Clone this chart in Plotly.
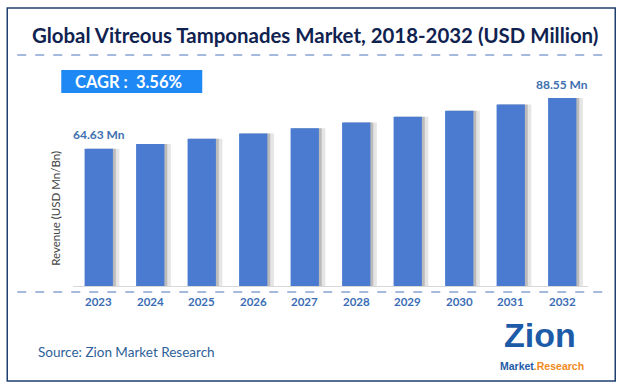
import plotly.graph_objects as go

years = ["2023", "2024", "2025", "2026", "2027", "2028", "2029", "2030", "2031", "2032"]
revenue = [64.63, 66.93, 69.32, 71.79, 74.34, 76.99, 79.73, 82.57, 85.51, 88.55]
first_label = "64.63 Mn"
last_label = "88.55 Mn"
title_text = "Global Vitreous Tamponades Market, 2018-2032 (USD Million)"
cagr_text = "CAGR :  3.56%"
source_text = "Source: Zion Market Research"
ytitle = "Revenue (USD Mn/Bn)"

W, H = 623, 388
L, R, T, B = 72.75, 587.75, 80, 286
ymax = (B - T) / ((B - 98.0) / 88.55)


def px(x):
    return (x - L) / (R - L)


def py(y):
    return (B - y) / (B - T)


fig = go.Figure()
# soft shadow behind bars
fig.add_trace(go.Bar(x=years, y=revenue, width=0.62, offset=-0.22,
                     marker=dict(color="rgba(150,150,150,0.25)", line=dict(width=0)),
                     hoverinfo="skip", showlegend=False))
fig.add_trace(go.Bar(x=years, y=revenue, width=0.58, offset=-0.25,
                     marker=dict(color="rgba(110,110,110,0.35)", line=dict(width=0)),
                     hoverinfo="skip", showlegend=False))
fig.add_trace(go.Bar(x=years, y=revenue, width=0.55, offset=-0.275,
                     marker=dict(color="#4a7bd0", line=dict(width=0)),
                     showlegend=False))

fig.update_layout(
    width=W, height=H,
    margin=dict(l=L, r=W - R, t=T, b=H - B),
    paper_bgcolor="white", plot_bgcolor="white",
    barmode="overlay",
    xaxis=dict(type="category", showgrid=False, showline=True, linecolor="#d8d8d8",
               linewidth=1, ticks="", showticklabels=False, range=[-0.5, 9.5]),
    yaxis=dict(range=[0, ymax], showgrid=False, showticklabels=False, zeroline=False,
               showline=False),
    font=dict(family="Lato, Open Sans, sans-serif"),
)

# year labels
for i, y in enumerate(years):
    fig.add_annotation(x=i, y=0, xref="x", yref="y", yshift=-15, text=f"<b>{y}</b>",
                       showarrow=False, font=dict(size=11.5, color="#3a6db5"))

# value labels
fig.add_annotation(x=0, y=revenue[0], xref="x", yref="y", yshift=14,
                   text=f"<b>{first_label}</b>", showarrow=False,
                   font=dict(size=12, color="#3d70b0"))
fig.add_annotation(x=len(years) - 1, y=revenue[-1], xref="x", yref="y", yshift=14,
                   text=f"<b>{last_label}</b>", showarrow=False,
                   font=dict(size=12, color="#3d70b0"))

# title
fig.add_annotation(x=px(30), y=py(35), xref="paper", yref="paper", xanchor="left",
                   yanchor="middle", text=f"<b>{title_text}</b>", showarrow=False,
                   font=dict(size=20.4, color="#10224f", family="Lato, sans-serif"))

# border and dashed separators
shapes = [
    dict(type="rect", xref="paper", yref="paper", x0=px(7), x1=px(615), y0=py(381),
         y1=py(8), line=dict(color="#1f3f6e", width=1.5), fillcolor="rgba(0,0,0,0)",
         layer="below"),
    dict(type="line", xref="paper", yref="paper", x0=px(17), x1=px(604), y0=py(55),
         y1=py(55), line=dict(color="#4a74b8", width=1, dash="dash")),
    dict(type="line", xref="paper", yref="paper", x0=px(17), x1=px(604), y0=py(292),
         y1=py(292), line=dict(color="#4a74b8", width=1, dash="dash")),
    dict(type="rect", xref="paper", yref="paper", x0=px(61), x1=px(202), y0=py(93),
         y1=py(70), line=dict(width=0), fillcolor="#1e88f5"),
]
fig.update_layout(shapes=shapes)

fig.add_annotation(x=px(73), y=py(81.5), xref="paper", yref="paper", xanchor="left",
                   yanchor="middle", text=f"<b>{cagr_text}</b>", showarrow=False,
                   font=dict(size=16.5, color="white"))

# y axis title
fig.add_annotation(x=px(46), y=py(208), xref="paper", yref="paper", textangle=-90,
                   text=ytitle, showarrow=False, font=dict(size=11.5, color="#444444"))

# source
fig.add_annotation(x=px(36), y=py(352), xref="paper", yref="paper", xanchor="left",
                   yanchor="middle", text=source_text, showarrow=False,
                   font=dict(size=13.5, color="#2e5f9a"))

# logo text
fig.add_annotation(x=px(540), y=py(335), xref="paper", yref="paper", xanchor="center",
                   yanchor="middle", text="<b>Zion</b>", showarrow=False, borderpad=0,
                   font=dict(size=34, color="#1d5ba8", family="Liberation Sans, Arial, sans-serif"))
fig.add_annotation(x=px(542), y=py(366), xref="paper", yref="paper", xanchor="center",
                   yanchor="middle", borderpad=0,
                   text="<b><span style='color:#1d5ba8'>Market</span><span style='color:#f08a1c'>.Research</span></b>",
                   showarrow=False, font=dict(size=10.5, family="Liberation Sans, Arial, sans-serif"))

fig.write_html("out.html", post_script="document.body.style.margin='0';",
               config={"displayModeBar": False})
